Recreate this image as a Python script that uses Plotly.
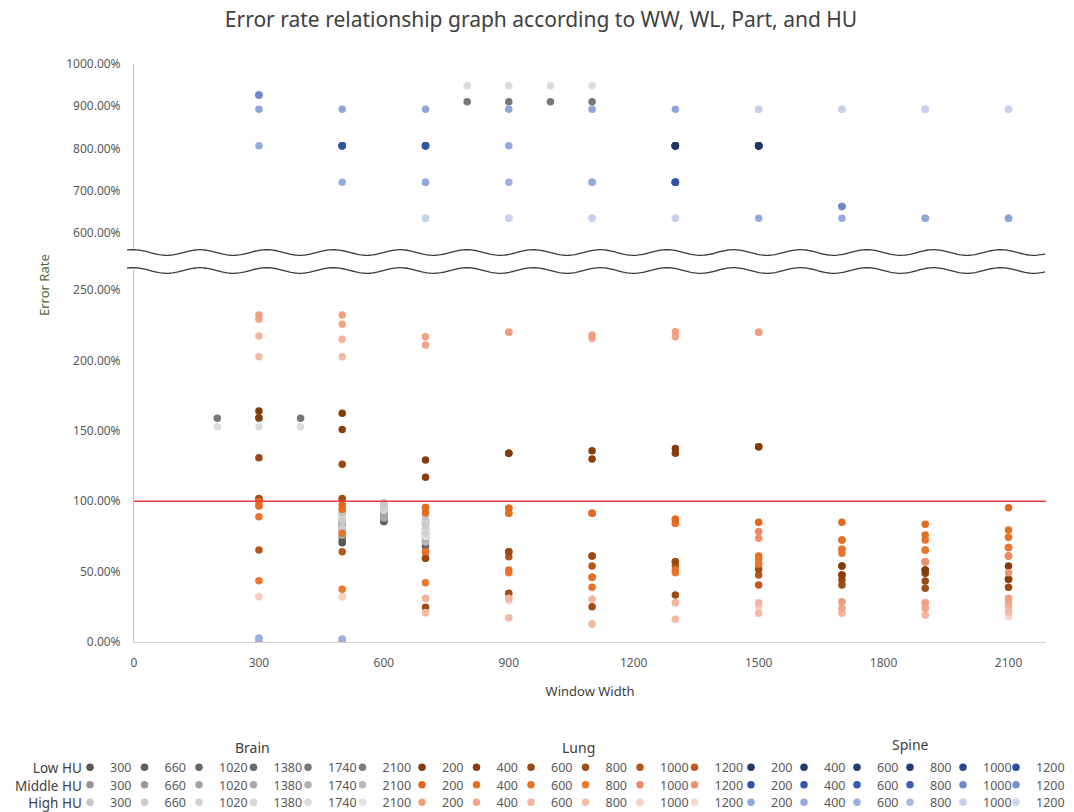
import math
import plotly.graph_objects as go

N = None

# ---------------- data (error rate in %) ----------------
ww_brain = [200, 300, 400, 500, 600, 700, 800, 900, 1000, 1100]
ww_lung = [300, 500, 700, 900, 1100, 1300, 1500, 1700, 1900, 2100]
ww_spine = [300, 500, 700, 900, 1100, 1300, 1500, 1700, 1900, 2100]

brain_wl = ["300", "660", "1020", "1380", "1740", "2100"]
lung_wl = ["200", "400", "600", "800", "1000", "1200"]
spine_wl = ["200", "400", "600", "800", "1000", "1200"]
hu_levels = ["Low HU", "Middle HU", "High HU"]
parts = ["Brain", "Lung", "Spine"]

# Brain  (x = ww_brain)
brain_low_300 = [N, N, N, 70.5, 91.4, 85.0, N, N, N, N]
brain_low_660 = [N, N, N, 75.0, 85.5, 71.0, N, N, N, N]
brain_low_1020 = [N, N, N, 80.0, 88.0, 68.0, N, N, N, N]
brain_low_1380 = [N, N, N, 85.0, 91.4, 74.0, N, N, N, N]
brain_low_1740 = [158.9, 158.9, 158.9, 72.0, 85.5, 80.0, 910.8, 910.8, 910.8, 910.8]
brain_low_2100 = [N, N, N, 82.0, 88.0, 77.0, N, N, N, N]
brain_mid_300 = [N, N, N, 88.0, 96.0, 83.0, N, N, N, N]
brain_mid_660 = [N, N, N, 82.0, 93.5, 77.0, N, N, N, N]
brain_mid_1020 = [N, N, N, 78.0, 91.4, 86.0, N, N, N, N]
brain_mid_1380 = [N, N, N, 84.0, 88.0, 74.0, N, N, N, N]
brain_mid_1740 = [N, N, N, 76.0, 96.0, 80.0, N, N, N, N]
brain_mid_2100 = [N, N, N, 90.0, 93.5, 71.0, N, N, N, N]
brain_high_300 = [N, N, N, 91.6, 98.9, 89.0, N, N, N, N]
brain_high_660 = [N, N, N, 86.0, 96.0, 83.0, N, N, N, N]
brain_high_1020 = [N, N, N, 81.0, 98.9, 77.0, N, N, N, N]
brain_high_1380 = [N, N, N, 78.0, 93.5, 86.0, N, N, N, N]
brain_high_1740 = [152.9, 152.9, 152.9, 91.6, 96.0, 80.0, 948.6, 948.6, 948.6, 948.6]
brain_high_2100 = [N, N, N, 89.0, 98.9, 75.0, N, N, N, N]

# Lung  (x = ww_lung)
lung_low_200 = [164.0, 162.4, 129.3, 134.0, 135.9, 137.5, 138.7, 54.0, 51.1, 54.0]
lung_low_400 = [159.3, 151.0, 117.0, 134.0, 130.0, 134.0, 138.7, 47.6, 48.8, 44.5]
lung_low_600 = [130.9, 126.2, 59.4, 64.1, 61.1, 57.0, 55.4, 44.0, 43.3, 38.8]
lung_low_800 = [102.0, 102.0, 24.6, 34.6, 25.1, 33.4, 51.6, 40.5, 38.1, 44.5]
lung_low_1000 = [65.3, 64.1, 64.1, 60.6, 54.0, 54.0, 47.6, 47.6, 51.1, 61.1]
lung_low_1200 = [101.6, 101.0, 59.4, 64.1, 61.1, 57.0, 40.5, 54.0, 57.0, 67.2]
lung_mid_200 = [99.7, 97.3, 95.6, 95.0, 91.4, 87.1, 85.0, 85.0, 83.6, 95.4]
lung_mid_400 = [96.6, 94.2, 91.8, 91.4, 46.0, 84.3, 61.1, 72.4, 76.0, 79.5]
lung_mid_600 = [89.0, 77.2, 64.1, 51.1, 38.8, 51.1, 58.7, 65.8, 72.4, 74.4]
lung_mid_800 = [43.5, 37.4, 42.1, 49.2, 46.0, 49.2, 55.4, 63.0, 65.3, 67.2]
lung_mid_1000 = [96.6, 94.2, 91.8, 91.4, 91.4, 84.3, 78.4, 72.4, 65.3, 61.1]
lung_mid_1200 = [0.0, 0.0, 95.6, 95.0, 91.4, 87.1, 73.6, 65.8, 57.0, 49.2]
lung_high_200 = [232.2, 232.2, 216.8, 220.0, 218.0, 220.4, 220.0, 28.6, 27.9, 31.0]
lung_high_400 = [229.2, 225.6, 211.0, 220.0, 215.7, 216.8, 220.0, 23.9, 23.9, 27.9]
lung_high_600 = [217.3, 215.0, 31.0, 31.0, 30.3, 27.9, 27.9, 20.4, 19.2, 25.1]
lung_high_800 = [202.6, 202.6, 20.8, 17.3, 12.8, 16.1, 20.4, 28.6, 27.9, 21.5]
lung_high_1000 = [32.2, 32.2, 31.0, 29.4, 30.3, 27.9, 25.1, 23.9, 23.9, 21.5]
lung_high_1200 = [32.2, 32.2, 20.8, 17.3, 12.8, 16.1, 20.4, 20.4, 19.2, 18.0]

# Spine  (x = ww_spine)
spine_low_200 = [N, N, N, N, N, 806.6, 806.6, N, N, N]
spine_low_400 = [N, N, N, N, N, 806.6, 806.6, N, N, N]
spine_low_600 = [N, N, N, N, N, 806.6, 806.6, N, N, N]
spine_low_800 = [N, N, N, N, N, 806.6, 806.6, N, N, N]
spine_low_1000 = [N, N, N, N, N, 806.6, 806.6, N, N, N]
spine_low_1200 = [N, N, N, N, N, 806.6, 806.6, N, N, N]
spine_mid_200 = [N, 806.6, 806.6, N, N, 720.0, N, N, N, N]
spine_mid_400 = [N, 806.6, 806.6, N, N, 720.0, N, N, N, N]
spine_mid_600 = [N, 806.6, 806.6, N, N, 720.0, N, N, N, N]
spine_mid_800 = [N, 806.6, 806.6, N, N, 720.0, N, N, N, N]
spine_mid_1000 = [926.6, N, N, N, N, N, N, 663.0, N, N]
spine_mid_1200 = [926.6, N, N, N, N, N, N, 663.0, N, N]
spine_high_200 = [893.0, 893.0, 893.0, 893.0, 893.0, 893.0, N, N, 635.0, 635.0]
spine_high_400 = [806.6, 720.0, 720.0, 806.6, 720.0, N, 635.0, 635.0, 635.0, 635.0]
spine_high_600 = [2.6, 1.9, N, 720.0, 720.0, N, N, N, N, N]
spine_high_800 = [2.6, 1.9, 720.0, N, N, N, N, N, N, N]
spine_high_1000 = [N, N, 635.0, 635.0, 635.0, 635.0, 893.0, 893.0, 893.0, 893.0]
spine_high_1200 = [N, N, 635.0, 635.0, 635.0, 635.0, 893.0, 893.0, 893.0, 893.0]

threshold_line = 100.0
x_ticks = [0, 300, 600, 900, 1200, 1500, 1800, 2100]
y_ticks_low = [0, 50, 100, 150, 200, 250]
y_ticks_high = [600, 700, 800, 900, 1000]

# ---------------- colours ----------------
brain_colors = [
    ["#575757", "#5c5c5c", "#656565", "#6b6b6b", "#777777", "#7d7d7d"],
    ["#959595", "#9b9b9b", "#a3a3a3", "#a9a9a9", "#b0b0b0", "#b8b8b8"],
    ["#c6c6c6", "#cbcbcb", "#d1d1d1", "#d6d6d6", "#dcdcdc", "#e3e3e3"],
]
lung_colors = [
    ["#843c0c", "#8a3f0e", "#9a4814", "#a04c15", "#b5561b", "#bd5a1d"],
    ["#e2691c", "#e66f22", "#e8722a", "#eb772f", "#ee8b66", "#f0916d"],
    ["#f0a07f", "#f2a688", "#f4b49d", "#f5baa4", "#f8cec0", "#f9d6ca"],
]
spine_colors = [
    ["#1f3864", "#203a69", "#213c6e", "#223e73", "#274794", "#2b4e9c"],
    ["#2f55a8", "#3158ad", "#3459b2", "#3a5fb8", "#6d88cd", "#7892d1"],
    ["#8fa6da", "#94aadc", "#9cb0df", "#a5b8e3", "#c5d0ec", "#ccd6ef"],
]

groups = [
    ("Brain", ww_brain, brain_wl, [
        [brain_low_300, brain_low_660, brain_low_1020, brain_low_1380, brain_low_1740, brain_low_2100],
        [brain_mid_300, brain_mid_660, brain_mid_1020, brain_mid_1380, brain_mid_1740, brain_mid_2100],
        [brain_high_300, brain_high_660, brain_high_1020, brain_high_1380, brain_high_1740, brain_high_2100],
    ], brain_colors),
    ("Lung", ww_lung, lung_wl, [
        [lung_low_200, lung_low_400, lung_low_600, lung_low_800, lung_low_1000, lung_low_1200],
        [lung_mid_200, lung_mid_400, lung_mid_600, lung_mid_800, lung_mid_1000, lung_mid_1200],
        [lung_high_200, lung_high_400, lung_high_600, lung_high_800, lung_high_1000, lung_high_1200],
    ], lung_colors),
    ("Spine", ww_spine, spine_wl, [
        [spine_low_200, spine_low_400, spine_low_600, spine_low_800, spine_low_1000, spine_low_1200],
        [spine_mid_200, spine_mid_400, spine_mid_600, spine_mid_800, spine_mid_1000, spine_mid_1200],
        [spine_high_200, spine_high_400, spine_high_600, spine_high_800, spine_high_1000, spine_high_1200],
    ], spine_colors),
]

# ---------------- layout geometry (pixels) ----------------
W, H = 1074, 812
ML, MR, MT, MB = 134, 28, 64, 170
PW, PH = W - ML - MR, H - MT - MB
PLOT_BOTTOM = MT + PH


def px_x(px):
    return (px - ML) / PW


def px_y(py):
    return (PLOT_BOTTOM - py) / PH


BREAK = 500.0  # values above go to the upper (broken) panel
FONT = "Noto Sans"
legend_left_px = [70, 402, 731]       # left edge of the first legend entry of each part
entry_step_px = [54.5, 54.5, 53.0]    # spacing between legend entries per part
row_px = [767.5, 785, 802.5]          # legend rows (Low / Middle / High HU)
leg_font = dict(family=FONT, size=12.5, color="#595959")

fig = go.Figure()
legend_layouts = {}
for p, (part, xs, wls, levels, cols) in enumerate(groups):
    for li, level in enumerate(levels):
        # draw later series first so the first series of a group sits on top
        for si in reversed(range(len(level))):
            ys = level[si]
            k = (p * 3 + li) * 6 + si + 1
            lid = "legend" if k == 1 else f"legend{k}"
            legend_layouts[lid] = dict(
                orientation="v", x=px_x(legend_left_px[p] + si * entry_step_px[p]),
                xanchor="left", y=px_y(row_px[li]), yanchor="middle",
                xref="paper", yref="paper", font=leg_font,
                bgcolor="rgba(0,0,0,0)", borderwidth=0,
            )
            lo_x = [x for x, y in zip(xs, ys) if y is not None and y <= BREAK]
            lo_y = [y for y in ys if y is not None and y <= BREAK]
            hi_x = [x for x, y in zip(xs, ys) if y is not None and y > BREAK]
            hi_y = [y for y in ys if y is not None and y > BREAK]
            grp = f"{part}-{li}-{si}"
            mk = dict(color=cols[li][si], size=7.5, line=dict(width=0))
            legend_on_low = len(lo_x) > 0
            if lo_x:
                fig.add_trace(go.Scatter(
                    x=lo_x, y=lo_y, mode="markers", marker=mk, name=wls[si],
                    legend=lid, legendgroup=grp, showlegend=True,
                    xaxis="x", yaxis="y",
                ))
            if hi_x:
                fig.add_trace(go.Scatter(
                    x=hi_x, y=hi_y, mode="markers", marker=mk, name=wls[si],
                    legend=lid, legendgroup=grp, showlegend=not legend_on_low,
                    xaxis="x", yaxis="y2",
                ))

# ---------------- axes ----------------
tick_font = dict(family=FONT, size=12, color="#595959")
fig.update_layout(
    width=W, height=H,
    margin=dict(l=ML, r=MR, t=MT, b=MB, autoexpand=False),
    paper_bgcolor="white", plot_bgcolor="white",
    showlegend=True,
    title=dict(text="Error rate relationship graph according to WW, WL, Part, and HU",
               x=541 / W, xref="container", xanchor="center",
               y=1 - 20 / H, yref="container", yanchor="middle",
               font=dict(family=FONT, size=21, color="#404040")),
    xaxis=dict(range=[0, 2190], tickvals=x_ticks, showgrid=False, zeroline=False,
               showline=True, linecolor="#d0d0d0", linewidth=1,
               ticks="outside", ticklen=10, tickcolor="rgba(0,0,0,0)",
               tickfont=tick_font, anchor="y",
               title=dict(text="Window Width", standoff=16,
                          font=dict(family=FONT, size=13, color="#404040"))),
    yaxis=dict(domain=[0, px_y(270)], range=[0, (PLOT_BOTTOM - 270) / 1.408],
               tickvals=y_ticks_low, ticktext=[f"{v:.2f}%" for v in y_ticks_low],
               showgrid=False, zeroline=False, showline=True, linecolor="#bfbfbf",
               ticks="outside", ticklen=10, tickcolor="rgba(0,0,0,0)",
               tickfont=tick_font, anchor="x"),
    yaxis2=dict(domain=[px_y(250), 1], range=[560, 1000],
                tickvals=y_ticks_high, ticktext=[f"{v:.2f}%" for v in y_ticks_high],
                showgrid=False, zeroline=False, showline=True, linecolor="#bfbfbf",
                ticks="outside", ticklen=10, tickcolor="rgba(0,0,0,0)",
                tickfont=tick_font, anchor="x"),
)
fig.update_layout(legend_layouts)

# ---------------- annotations ----------------
annos = [dict(text="<br>".join(hu_levels), x=px_x(84), y=px_y(row_px[1]),
              xref="paper", yref="paper", xanchor="right", yanchor="middle",
              align="right", showarrow=False,
              font=dict(family=FONT, size=13.5, color="#404040"))]
for lbl, cx, cy in zip(parts, [252, 578, 910], [747, 747, 744]):
    annos.append(dict(text=lbl, x=px_x(cx), y=px_y(cy), xref="paper", yref="paper",
                      xanchor="center", yanchor="middle", showarrow=False,
                      font=dict(family=FONT, size=14, color="#404040")))
annos.append(dict(text="Error Rate", x=px_x(44), y=px_y(285), xref="paper", yref="paper",
                  xanchor="center", yanchor="middle", showarrow=False, textangle=-90,
                  font=dict(family=FONT, size=13, color="#4f6b3a")))

# ---------------- shapes: threshold line and axis-break waves ----------------
shapes = [dict(type="line", xref="paper", x0=0, x1=1, yref="y", y0=threshold_line,
               y1=threshold_line, line=dict(color="#f23b3b", width=1.5), layer="above")]


def wave(center_py, x0=127, x1=1046, amp=2.8, period=66.7, trough=166.7):
    pts = []
    x = x0
    while x <= x1 + 0.01:
        yy = center_py + amp * math.cos(2 * math.pi * (x - trough) / period)
        pts.append(f"{px_x(x):.5f},{px_y(yy):.5f}")
        x += 2
    return "M " + " L ".join(pts)


for cy in (252.5, 270.5):
    shapes.append(dict(type="path", xref="paper", yref="paper", path=wave(cy),
                       line=dict(color="#3a3a3a", width=1.3), layer="above"))

fig.update_layout(annotations=annos, shapes=shapes)
fig.write_html("out.html", config={"displayModeBar": False},
               post_script="document.body.style.margin='0px';")
